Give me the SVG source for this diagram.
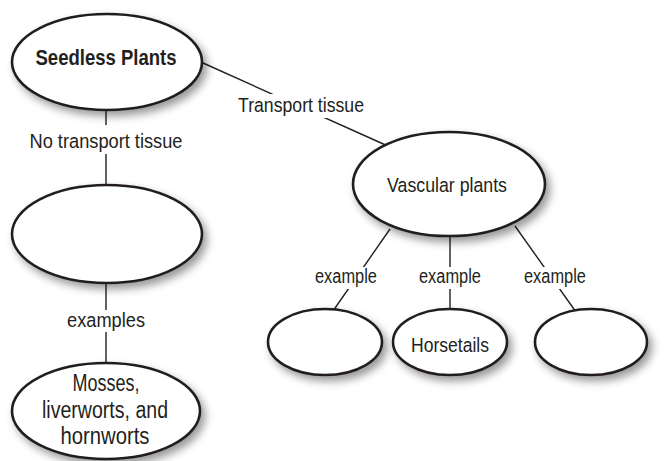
<svg xmlns="http://www.w3.org/2000/svg" width="664" height="461" viewBox="0 0 664 461">
<defs>
<filter id="sh" x="-20%" y="-20%" width="150%" height="160%">
<feDropShadow dx="4" dy="5" stdDeviation="4" flood-color="#000" flood-opacity="0.4"/>
</filter>
<style>
.node{fill:#fff;stroke:#231f20;stroke-width:2.6;filter:url(#sh)}
.conn{stroke:#231f20;stroke-width:1.4;fill:none}
.lbg{fill:#fff;stroke:none}
text{font-family:"Liberation Sans Narrow","Liberation Sans",Arial,sans-serif;fill:#231f20;text-anchor:middle}
.t{font-size:20.5px}
.b{font-size:22px;font-weight:bold}
.e{font-size:19.5px}
.m{font-size:23px}
</style>
</defs>
<rect width="664" height="461" fill="#fff"/>
<g id="connectors">
<line class="conn" x1="203" y1="63" x2="390" y2="147"/>
<line class="conn" x1="106" y1="110" x2="106" y2="186"/>
<line class="conn" x1="106" y1="283" x2="106" y2="364"/>
<line class="conn" x1="390" y1="229" x2="333" y2="311"/>
<line class="conn" x1="450" y1="236" x2="450" y2="310"/>
<line class="conn" x1="515" y1="226" x2="576" y2="312"/>
<g id="labels">
<rect class="lbg" x="213" y="94" width="177" height="24"/>
<text class="t" x="301" y="112" textLength="126" lengthAdjust="spacingAndGlyphs">Transport tissue</text>
<rect class="lbg" x="17" y="125" width="175" height="29"/>
<text class="t" x="106" y="148" textLength="153" lengthAdjust="spacingAndGlyphs">No transport tissue</text>
<rect class="lbg" x="18" y="310" width="177" height="22"/>
<text class="t" x="106" y="327" textLength="78" lengthAdjust="spacingAndGlyphs">examples</text>
<rect class="lbg" x="310" y="267" width="73" height="22"/>
<text class="e" x="346" y="283" textLength="62" lengthAdjust="spacingAndGlyphs">example</text>
<rect class="lbg" x="415" y="267" width="70" height="22"/>
<text class="e" x="450" y="283" textLength="62" lengthAdjust="spacingAndGlyphs">example</text>
<rect class="lbg" x="520" y="267" width="70" height="22"/>
<text class="e" x="555" y="283" textLength="62" lengthAdjust="spacingAndGlyphs">example</text>
</g>
</g>
<g id="seedless">
<ellipse class="node" cx="107" cy="62" rx="95" ry="48"/>
<text class="b" x="106" y="65" textLength="141" lengthAdjust="spacingAndGlyphs">Seedless Plants</text>
</g>
<g id="nonvascular">
<ellipse class="node" cx="107" cy="234" rx="95" ry="49"/>
</g>
<g id="mosses">
<ellipse class="node" cx="106" cy="411" rx="94" ry="48"/>
<text class="m" x="106" y="391" textLength="67" lengthAdjust="spacingAndGlyphs">Mosses,</text>
<text class="m" x="105" y="418" textLength="126" lengthAdjust="spacingAndGlyphs">liverworts, and</text>
<text class="m" x="105" y="444" textLength="89" lengthAdjust="spacingAndGlyphs">hornworts</text>
</g>
<g id="vascular">
<ellipse class="node" cx="449" cy="184" rx="96" ry="52"/>
<text class="t" x="447" y="192" textLength="120" lengthAdjust="spacingAndGlyphs">Vascular plants</text>
</g>
<g id="example1">
<ellipse class="node" cx="325" cy="342" rx="57" ry="33"/>
</g>
<g id="horsetails">
<ellipse class="node" cx="450" cy="342" rx="57" ry="33"/>
<text class="t" x="450" y="352" textLength="78" lengthAdjust="spacingAndGlyphs">Horsetails</text>
</g>
<g id="example3">
<ellipse class="node" cx="591" cy="342" rx="56" ry="33"/>
</g>
</svg>
